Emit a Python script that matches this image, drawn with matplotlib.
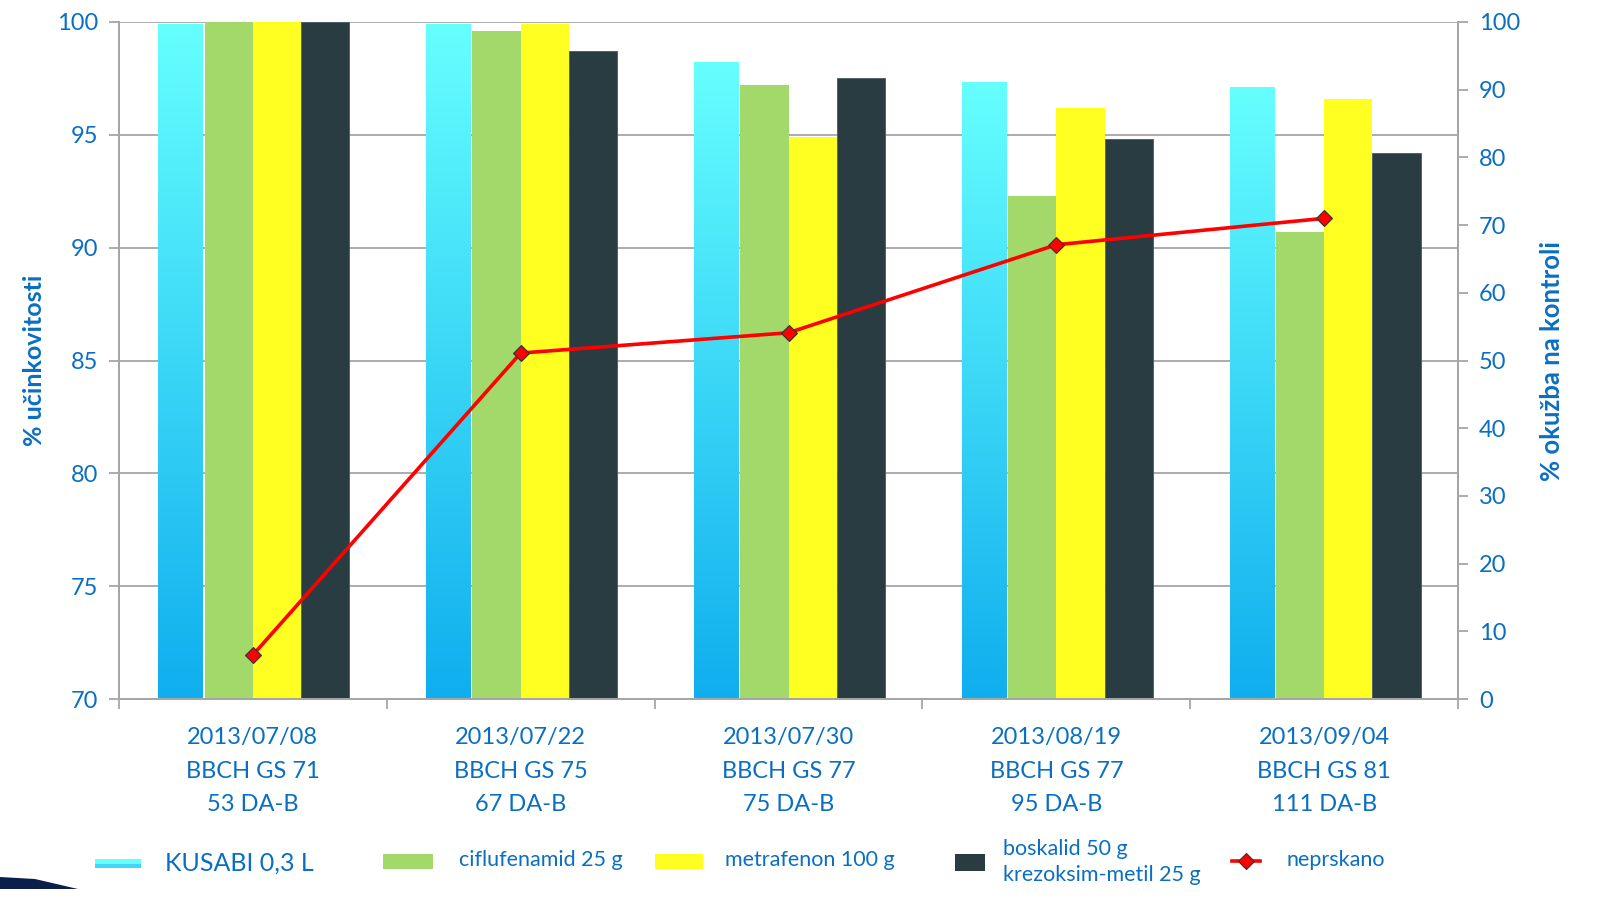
import numpy as np
import matplotlib.pyplot as plt
from matplotlib.colors import LinearSegmentedColormap
from matplotlib.patches import Rectangle, Polygon
from matplotlib.lines import Line2D

plt.rcParams['font.family'] = ['Lato', 'DejaVu Sans']

# data
dates = ['2013/07/08\nBBCH GS 71\n53 DA-B',
         '2013/07/22\nBBCH GS 75\n67 DA-B',
         '2013/07/30\nBBCH GS 77\n75 DA-B',
         '2013/08/19\nBBCH GS 77\n95 DA-B',
         '2013/09/04\nBBCH GS 81\n111 DA-B']
kusabi = [99.9, 99.9, 98.2, 97.3, 97.1]
ciflufenamid = [100.0, 99.6, 97.2, 92.3, 90.7]
metrafenon = [100.0, 99.9, 94.9, 96.2, 96.6]
boskalid = [100.0, 98.7, 97.5, 94.8, 94.2]
neprskano = [6.5, 51.1, 54.1, 67.1, 71.0]

series_names = ['KUSABI 0,3 L', 'ciflufenamid 25 g', 'metrafenon 100 g',
                'boskalid 50 g\nkrezoksim-metil 25 g', 'neprskano']

blue = '#0a6fc2'
grid_c = '#a6a6a6'
green = '#a3d86b'
yellow = '#ffff22'
dark = '#283c42'

fig = plt.figure(figsize=(16.03, 9.09), dpi=100)
ax = fig.add_axes([0.0742, 0.231, 0.8354, 0.7448])

x = np.arange(len(dates))
w = 0.18
base = 70

ax.set_axisbelow(True)
ax.yaxis.grid(True, color=grid_c, lw=1.3)

cy = ax.bar(x - 1.5 * w, np.array(kusabi) - base, 0.165, bottom=base,
            color='none', edgecolor='none', zorder=2)
ax.bar(x - 0.5 * w, np.array(ciflufenamid) - base, w, bottom=base,
       color=green, zorder=2)
ax.bar(x + 0.5 * w, np.array(metrafenon) - base, w, bottom=base,
       color=yellow, zorder=2)
ax.bar(x + 1.5 * w, np.array(boskalid) - base, w, bottom=base,
       color=dark, edgecolor='#4a5a60', lw=0.6, zorder=2)

# gradient fill for KUSABI bars
cmap = LinearSegmentedColormap.from_list('cy', ['#0faeee', '#66ffff'])
grad = np.linspace(0, 1, 256).reshape(-1, 1)
for b in cy:
    x0, y0 = b.get_x(), b.get_y()
    ax.imshow(grad, cmap=cmap, origin='lower', aspect='auto', zorder=2,
              extent=[x0, x0 + b.get_width(), y0, y0 + b.get_height()])

ax.set_xlim(-0.5, len(dates) - 0.5)
ax.set_ylim(70, 100)
ax.set_yticks(np.arange(70, 101, 5))
ax.set_xticks(x)
ax.set_xticklabels(dates, fontsize=17, color=blue, linespacing=1.75)
ax.set_xticks(np.arange(-0.5, len(dates), 1), minor=True)
ax.tick_params(axis='x', which='major', length=0, pad=20)
ax.tick_params(axis='x', which='minor', length=7, color=grid_c, width=1.3)
ax.tick_params(axis='y', labelsize=17, labelcolor=blue, length=7,
               color=grid_c, width=1.3, pad=8)
ax.set_ylabel('% učinkovitosti', fontsize=18, fontweight='bold', color=blue,
              labelpad=8)
for s in ['left', 'right', 'bottom']:
    ax.spines[s].set_color(grid_c)
    ax.spines[s].set_linewidth(1.3)
ax.spines['top'].set_visible(False)

ax2 = ax.twinx()
ax2.plot(x, neprskano, color='#ff0000', lw=2.6, marker='D', markersize=8,
         markerfacecolor='#ff0000', markeredgecolor='#333333',
         markeredgewidth=0.8, zorder=5)
ax2.set_ylim(0, 100)
ax2.set_yticks(np.arange(0, 101, 10))
ax2.tick_params(axis='y', labelsize=17, labelcolor=blue, length=7,
                color=grid_c, width=1.3, pad=8)
ax2.set_ylabel('% okužba na kontroli', fontsize=18.5, fontweight='bold',
               color=blue, labelpad=14)
for s in ['left', 'right', 'bottom']:
    ax2.spines[s].set_color(grid_c)
    ax2.spines[s].set_linewidth(1.3)
ax2.spines['top'].set_visible(False)

# legend drawn by hand along the bottom
H = 909.0
W = 1603.0


def fx(px):
    return px / W


def fy(py):
    return 1 - py / H


fig.add_artist(Rectangle((fx(95), fy(868)), fx(46), 9 / H,
                         facecolor='#3fd6f8', edgecolor='none',
                         transform=fig.transFigure))
fig.add_artist(Rectangle((fx(95), fy(864)), fx(46), 5 / H,
                         facecolor='#66ffff', edgecolor='none',
                         transform=fig.transFigure))
fig.add_artist(Rectangle((fx(383), fy(869)), fx(50), 15 / H,
                         facecolor=green, edgecolor='none',
                         transform=fig.transFigure))
fig.add_artist(Rectangle((fx(655), fy(869)), fx(48), 15 / H,
                         facecolor=yellow, edgecolor='none',
                         transform=fig.transFigure))
fig.add_artist(Rectangle((fx(955), fy(871)), fx(30), 17 / H,
                         facecolor=dark, edgecolor='none',
                         transform=fig.transFigure))
fig.add_artist(Line2D([fx(1232), fx(1246), fx(1260)], [fy(861)] * 3,
                      color='#ff0000', lw=2.6, marker='D', markersize=8,
                      markevery=[1], markerfacecolor='#ff0000',
                      markeredgecolor='#333333', markeredgewidth=0.8,
                      transform=fig.transFigure))

fig.text(fx(165), fy(863), series_names[0], fontsize=18, color=blue,
         va='center')
fig.text(fx(459), fy(860), series_names[1], fontsize=15.5, color=blue,
         va='center')
fig.text(fx(725), fy(860), series_names[2], fontsize=15.5, color=blue,
         va='center')
fig.text(fx(1003), fy(862), series_names[3], fontsize=15.5, color=blue,
         va='center', linespacing=1.4)
fig.text(fx(1287), fy(860), series_names[4], fontsize=15.5, color=blue,
         va='center')

# decorative swoosh bottom-left
fig.add_artist(Polygon([[0, fy(877)], [fx(35), fy(879)], [fx(78), fy(889)],
                        [0, fy(889)]], closed=True, facecolor='#0b1f4a',
                       edgecolor='none', transform=fig.transFigure))

fig.savefig('out.png', dpi=100)
